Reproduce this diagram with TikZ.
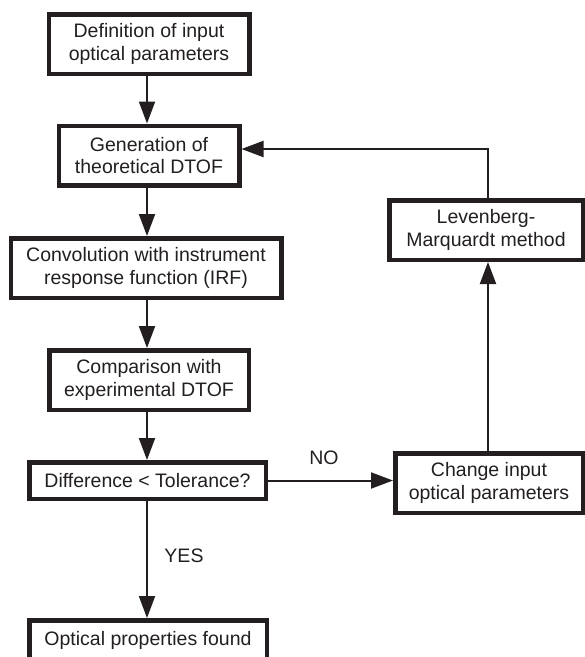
\documentclass[tikz,border=0pt]{standalone}
\usepackage{fontspec}
\setmainfont{Liberation Sans}
\usetikzlibrary{arrows.meta,calc}
\definecolor{ink}{HTML}{231F20}
\begin{document}
\begin{tikzpicture}[x=1pt,y=-1pt,
  every node/.style={text=ink,font=\fontsize{19.5}{22.5}\selectfont},
  flowbox/.style={draw=ink,line width=4.5pt,fill=white,align=center,inner sep=0pt,minimum height=59.5pt},
  arr/.style={draw=ink,line width=2pt,-{Triangle[length=22pt,width=16pt]}},
  lbl/.style={inner sep=0pt}]
\useasboundingbox (0,0) rectangle (585,657);
\clip (0,0) rectangle (585,657);
\node[flowbox,minimum width=200.5pt] (def) at (149,44) {Definition of input\\optical parameters};
\node[flowbox,minimum width=180.5pt] (gen) at (149,155.5) {Generation of\\theoretical DTOF};
\node[flowbox,minimum width=270.5pt] (conv) at (146,268) {Convolution with instrument\\response function (IRF)};
\node[flowbox,minimum width=199.5pt] (comp) at (149,380) {Comparison with\\experimental DTOF};
\node[flowbox,minimum width=236.5pt,minimum height=36.5pt] (diff) at (147.5,480.5) {Difference < Tolerance?};
\node[flowbox,minimum width=237.5pt,minimum height=39.5pt] (opt) at (148,640) {Optical properties found};
\node[flowbox,minimum width=193.5pt] (lev) at (486,230) {Levenberg-\\Marquardt method};
\node[flowbox,minimum width=187.5pt] (chg) at (489,483) {Change input\\optical parameters};
\node[lbl] (no) at (324,458) {NO};
\node[lbl] (yes) at (184,556) {YES};
\draw[arr] (def.south -| 147,0) -- (gen.north -| 147,0);
\draw[arr] (gen.south -| 147,0) -- (conv.north -| 147,0);
\draw[arr] (conv.south -| 147,0) -- (comp.north -| 147,0);
\draw[arr] (comp.south -| 147,0) -- (diff.north -| 147,0);
\draw[arr] (diff.south -| 147,0) -- (opt.north -| 147,0);
\draw[arr] (diff.east) -- (diff.east -| chg.west);
\draw[arr] (chg.north -| 488,0) -- (lev.south -| 488,0);
\draw[arr] (lev.north -| 488,0) |- ([yshift=6.5pt]gen.east);
\end{tikzpicture}
\end{document}
